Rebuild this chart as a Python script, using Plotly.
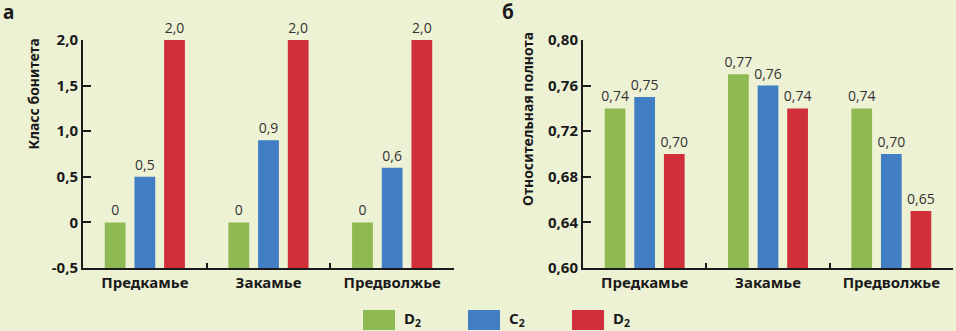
import plotly.graph_objects as go

regions = ["Предкамье", "Закамье", "Предволжье"]
series_names = ["D<sub>2</sub>", "C<sub>2</sub>", "D<sub>2</sub>"]
colors = ["#8FB952", "#417EC4", "#D0303A"]

# panel а: site class (bonitet)
bonitet = [
    [0, 0, 0],        # green
    [0.5, 0.9, 0.6],  # blue
    [2.0, 2.0, 2.0],  # red
]
# panel б: relative density
density = [
    [0.74, 0.77, 0.74],
    [0.75, 0.76, 0.70],
    [0.70, 0.74, 0.65],
]

left_ticks = [-0.5, 0, 0.5, 1.0, 1.5, 2.0]
left_ticktext = ["-0,5", "0", "0,5", "1,0", "1,5", "2,0"]
right_ticks = [0.60, 0.64, 0.68, 0.72, 0.76, 0.80]
right_ticktext = ["0,60", "0,64", "0,68", "0,72", "0,76", "0,80"]
left_title = "Класс бонитета"
right_title = "Относительная полнота"

LEFT_BASE = -0.5
W, H = 956, 331
BG = "#EEF2D5"
INK = "#1a1a1a"


def fmt1(v):
    return "0" if v == 0 else f"{v:.1f}".replace(".", ",")


def fmt2(v):
    return f"{v:.2f}".replace(".", ",")


label_font = dict(family="Open Sans", size=14, color="#333")

fig = go.Figure()
for i in range(3):
    fig.add_trace(go.Bar(
        x=regions, y=[v - LEFT_BASE for v in bonitet[i]], base=LEFT_BASE,
        name=series_names[i], marker_color=colors[i], marker_line_width=0,
        text=[fmt1(v) for v in bonitet[i]], textposition="outside",
        textfont=label_font, cliponaxis=False, constraintext="none",
        xaxis="x", yaxis="y", showlegend=False,
    ))
for i in range(3):
    fig.add_trace(go.Bar(
        x=regions, y=density[i],
        name=series_names[i], marker_color=colors[i], marker_line_width=0,
        text=[fmt2(v) for v in density[i]], textposition="outside",
        textfont=label_font, cliponaxis=False, constraintext="none",
        xaxis="x2", yaxis="y2", showlegend=False,
    ))

axis_common = dict(showline=True, linecolor=INK, linewidth=2,
                   ticks="inside", tickcolor=INK, tickwidth=2,
                   showgrid=False, zeroline=False, automargin=False)
tickfont = dict(family="Noto Sans", size=15, color=INK, weight="bold")
titlefont = dict(family="Noto Sans", size=14, color=INK, weight="bold")

y_dom = [(H - 268) / H, (H - 40) / H]

# legend drawn as large colour swatches with labels (as in the reference)
legend_x = [363, 468, 572]
shapes = []
annotations = []
for i in range(3):
    x0 = legend_x[i]
    shapes.append(dict(type="rect", xref="paper", yref="paper",
                       x0=x0 / W, x1=(x0 + 32) / W, y0=(H - 330) / H, y1=(H - 310) / H,
                       fillcolor=colors[i], line_width=0))
    annotations.append(dict(text=series_names[i], x=(x0 + 39) / W, y=(H - 319) / H,
                            xref="paper", yref="paper", xanchor="left", yanchor="middle",
                            showarrow=False,
                            font=dict(family="Noto Sans", size=15, color=INK, weight="bold")))

# y-axis titles (top-aligned, as in the reference)
annotations += [
    dict(text=left_title, textangle=-90, x=33 / W, y=(H - 37) / H,
         xref="paper", yref="paper", xanchor="center", yanchor="top",
         showarrow=False, font=titlefont),
    dict(text=right_title, textangle=-90, x=527 / W, y=(H - 30) / H,
         xref="paper", yref="paper", xanchor="center", yanchor="top",
         showarrow=False, font=titlefont),
]

annotations += [
    dict(text="а", x=0, y=1, xref="paper", yref="paper", xanchor="left",
         yanchor="top", showarrow=False, xshift=1, yshift=3,
         font=dict(family="Noto Sans", size=19, color=INK, weight="bold")),
    dict(text="б", x=500 / W, y=1, xref="paper", yref="paper", xanchor="left",
         yanchor="top", showarrow=False, yshift=3,
         font=dict(family="Noto Sans", size=19, color=INK, weight="bold")),
]

fig.update_layout(
    width=W, height=H,
    margin=dict(l=0, r=0, t=0, b=0, autoexpand=False),
    paper_bgcolor=BG, plot_bgcolor=BG,
    barmode="group", bargap=0.28, bargroupgap=0.3,
    showlegend=False,
    xaxis=dict(domain=[83 / W, 454 / W], anchor="y", tickson="boundaries",
               ticklen=5, tickfont=tickfont, **axis_common),
    yaxis=dict(domain=y_dom, anchor="x", range=[-0.5, 2.0],
               tickvals=left_ticks, ticktext=left_ticktext, ticklen=8,
               tickfont=tickfont, **axis_common),
    xaxis2=dict(domain=[583 / W, 953 / W], anchor="y2", tickson="boundaries",
                ticklen=5, tickfont=tickfont, **axis_common),
    yaxis2=dict(domain=y_dom, anchor="x2", range=[0.6, 0.8],
                tickvals=right_ticks, ticktext=right_ticktext, ticklen=8,
                tickfont=tickfont, **axis_common),
    shapes=shapes,
    annotations=annotations,
)

fig.write_html(
    "out.html",
    config={"displayModeBar": False},
    post_script="document.body.style.margin='0';document.body.style.overflow='hidden';",
)
